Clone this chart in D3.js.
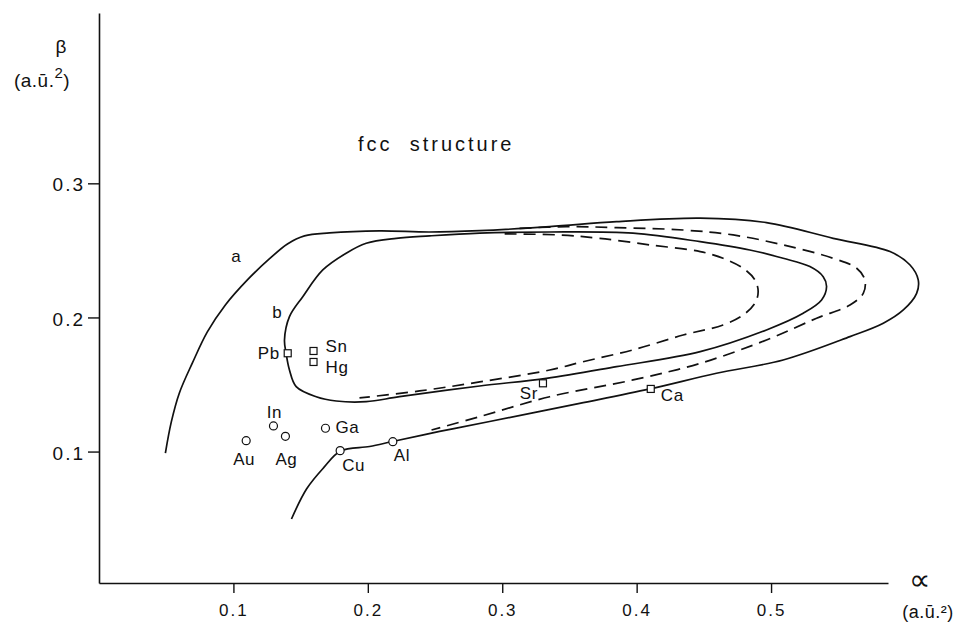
<!DOCTYPE html>
<html>
<head>
<meta charset="utf-8">
<script src="https://cdn.jsdelivr.net/npm/d3@7"></script>
<style>
  html, body { margin: 0; padding: 0; background: #fff; }
  svg { display: block; }
  text { font-family: "Liberation Sans", Arial, Helvetica, sans-serif; fill: #111; }
</style>
</head>
<body>
<svg id="chart" width="968" height="623"></svg>
<script>
// ---- data (alpha, beta in a.u.^-2) ----
const xTicks = [0.1, 0.2, 0.3, 0.4, 0.5];
const yTicks = [0.1, 0.2, 0.3];

// curve a (solid, open)
const curveA = [
  [0.0494,0.0989],[0.0538,0.1221],[0.0598,0.1437],[0.0695,0.1661],[0.0806,0.1892],
  [0.0940,0.2093],[0.1104,0.2280],[0.1267,0.2436],[0.1402,0.2548],[0.1529,0.2608],
  [0.1715,0.2630],[0.2087,0.2645],[0.2459,0.2637],[0.2832,0.2647],[0.3353,0.2677],
  [0.3850,0.2714],[0.4473,0.2740],[0.4966,0.2707],[0.5462,0.2590],[0.5885,0.2491],
  [0.6034,0.2391],[0.6095,0.2280],[0.6083,0.2180],[0.5984,0.2056],[0.5835,0.1957],
  [0.5587,0.1857],[0.5090,0.1683],[0.4594,0.1584],[0.4098,0.1467],[0.3576,0.1359],
  [0.2906,0.1224],[0.2534,0.1150],[0.2184,0.1075],[0.2013,0.1038],[0.1797,0.1004],
  [0.1670,0.0878],[0.1544,0.0721],[0.1432,0.0497]
];

// curve b (solid, closed loop)
const curveB = [
  [0.1380,0.1832],[0.1417,0.2006],[0.1516,0.2155],[0.1665,0.2354],[0.1839,0.2479],
  [0.1988,0.2553],[0.2211,0.2590],[0.2459,0.2608],[0.2832,0.2628],[0.3353,0.2637],
  [0.3973,0.2628],[0.4473,0.2565],[0.4842,0.2503],[0.5090,0.2441],[0.5289,0.2379],
  [0.5388,0.2304],[0.5413,0.2230],[0.5376,0.2130],[0.5239,0.2031],[0.4966,0.1907],
  [0.4473,0.1745],[0.3850,0.1633],[0.3328,0.1546],[0.2832,0.1489],[0.2236,0.1409],
  [0.1988,0.1372],[0.1765,0.1377],[0.1616,0.1409],[0.1467,0.1484],[0.1417,0.1608],
  [0.1392,0.1733]
];

// dashed curve inside b
const dashInner = [
  [0.3018,0.2623],[0.3427,0.2615],[0.3725,0.2590],[0.4098,0.2541],[0.4473,0.2491],
  [0.4643,0.2441],[0.4792,0.2367],[0.4880,0.2280],[0.4904,0.2192],[0.4880,0.2106],
  [0.4792,0.2018],[0.4643,0.1944],[0.4346,0.1869],[0.3973,0.1758],[0.3601,0.1670],
  [0.3353,0.1608],[0.2832,0.1519],[0.2385,0.1452],[0.1938,0.1400]
];

// dashed curve between b and a
const dashOuter = [
  [0.3129,0.2664],[0.3477,0.2677],[0.3850,0.2670],[0.4346,0.2652],[0.4718,0.2615],
  [0.5090,0.2541],[0.5462,0.2441],[0.5637,0.2367],[0.5698,0.2280],[0.5686,0.2180],
  [0.5587,0.2093],[0.5339,0.1994],[0.4966,0.1832],[0.4473,0.1658],[0.3973,0.1534],
  [0.3353,0.1409],[0.2832,0.1260],[0.2474,0.1161]
];

// metals
const circleNames  = ["Au","In","Ag","Ga","Cu","Al"];
const circleAlpha  = [0.1095,0.1298,0.1387,0.1685,0.1794,0.2186];
const circleBeta   = [0.1081,0.1191,0.1114,0.1174,0.1007,0.1074];

const squareNames  = ["Pb","Sn","Hg","Sr","Ca"];
const squareAlpha  = [0.1404,0.1596,0.1596,0.3303,0.4105];
const squareBeta   = [0.1733,0.1750,0.1668,0.1509,0.1467];

// ---- drawing ----
const svg = d3.select("#chart");
const x = d3.scaleLinear().domain([0, 0.587]).range([99, 888]);
const y = d3.scaleLinear().domain([0.002, 0.427]).range([583, 13]);

const ink = "#111";

// axes
const xAxis = svg.append("g")
  .attr("transform", `translate(0,${y(0.002)})`)
  .call(d3.axisBottom(x).tickValues(xTicks).tickSize(10).tickSizeOuter(0)
        .tickFormat(d3.format(".1f")));
xAxis.select(".domain").attr("stroke", ink).attr("stroke-width", 1.6);
xAxis.selectAll(".tick line").attr("stroke", ink).attr("stroke-width", 1.4);
xAxis.selectAll(".tick text").attr("fill", ink).attr("font-size", 17)
  .attr("letter-spacing", "2px").attr("dy", "1.2em")
  .attr("font-family", "'Liberation Sans', Arial, sans-serif");

const yAxis = svg.append("g")
  .attr("transform", `translate(${x(0)},0)`)
  .call(d3.axisLeft(y).tickValues(yTicks).tickSize(11).tickSizeOuter(0)
        .tickFormat(d3.format(".1f")));
yAxis.select(".domain").attr("stroke", ink).attr("stroke-width", 1.6);
yAxis.selectAll(".tick line").attr("stroke", ink).attr("stroke-width", 1.4);
yAxis.selectAll(".tick text").attr("fill", ink).attr("font-size", 19)
  .attr("letter-spacing", "2px").attr("x", -14).attr("dy", "0.4em")
  .attr("font-family", "'Liberation Sans', Arial, sans-serif");

// curves
const lineOpen = d3.line().x(d => x(d[0])).y(d => y(d[1])).curve(d3.curveCatmullRom.alpha(0.5));
const lineClosed = d3.line().x(d => x(d[0])).y(d => y(d[1])).curve(d3.curveCatmullRomClosed.alpha(0.5));

svg.append("path").attr("d", lineOpen(curveA))
  .attr("fill", "none").attr("stroke", ink).attr("stroke-width", 1.7);
svg.append("path").attr("d", lineClosed(curveB))
  .attr("fill", "none").attr("stroke", ink).attr("stroke-width", 1.7);
svg.append("path").attr("d", lineOpen(dashInner))
  .attr("fill", "none").attr("stroke", ink).attr("stroke-width", 1.7)
  .attr("stroke-dasharray", "12,7");
svg.append("path").attr("d", lineOpen(dashOuter))
  .attr("fill", "none").attr("stroke", ink).attr("stroke-width", 1.7)
  .attr("stroke-dasharray", "12,7");

// markers
const circles = circleNames.map((n, i) => ({n, a: circleAlpha[i], b: circleBeta[i]}));
const squares = squareNames.map((n, i) => ({n, a: squareAlpha[i], b: squareBeta[i]}));

svg.append("g").selectAll("circle").data(circles).join("circle")
  .attr("cx", d => x(d.a)).attr("cy", d => y(d.b)).attr("r", 4)
  .attr("fill", "#fff").attr("stroke", ink).attr("stroke-width", 1.2);

svg.append("g").selectAll("rect").data(squares).join("rect")
  .attr("x", d => x(d.a) - 3.5).attr("y", d => y(d.b) - 3.5)
  .attr("width", 7).attr("height", 7)
  .attr("fill", "#fff").attr("stroke", ink).attr("stroke-width", 1.2);

// marker labels: offsets relative to marker [dx, dy, anchor]
const labelOffsets = {
  Au: [-2, 24, "middle"], In: [1, -8, "middle"], Ag: [1, 29, "middle"],
  Ga: [10, 5, "start"], Cu: [2, 20, "start"], Al: [1, 19, "start"],
  Pb: [-8, 6, "end"], Sn: [12, 1, "start"], Hg: [12, 11, "start"],
  Sr: [-5, 16, "end"], Ca: [10, 12, "start"]
};
const allPts = circles.concat(squares);
svg.append("g").selectAll("text").data(allPts).join("text")
  .attr("x", d => x(d.a) + labelOffsets[d.n][0])
  .attr("y", d => y(d.b) + labelOffsets[d.n][1])
  .attr("text-anchor", d => labelOffsets[d.n][2])
  .attr("font-size", 17).attr("letter-spacing", "0.6px")
  .text(d => d.n);

// curve labels
svg.append("text").attr("x", 236).attr("y", 262).attr("font-size", 17)
  .attr("text-anchor", "middle").text("a");
svg.append("text").attr("x", 277).attr("y", 318).attr("font-size", 17)
  .attr("text-anchor", "middle").text("b");

// title inside plot
svg.append("text").attr("x", 358).attr("y", 151).attr("font-size", 20)
  .attr("letter-spacing", "3px").attr("xml:space", "preserve")
  .text("fcc  structure");

// axis titles
svg.append("text").attr("x", 61).attr("y", 53).attr("font-size", 19)
  .attr("text-anchor", "middle").text("β");
const yt = svg.append("text").attr("x", 42).attr("y", 87).attr("font-size", 19)
  .attr("text-anchor", "middle").attr("letter-spacing", "0.5px");
yt.append("tspan").text("(a.ū.");
yt.append("tspan").attr("dy", -9).attr("font-size", 15).text("2");
yt.append("tspan").attr("dy", 9).text(")");

svg.append("text").attr("x", 919).attr("y", 590).attr("font-size", 30)
  .attr("text-anchor", "middle").text("∝");
svg.append("text").attr("x", 928).attr("y", 618).attr("font-size", 18)
  .attr("text-anchor", "middle").attr("letter-spacing", "0.5px")
  .text("(a.ū.²)");
</script>
</body>
</html>
